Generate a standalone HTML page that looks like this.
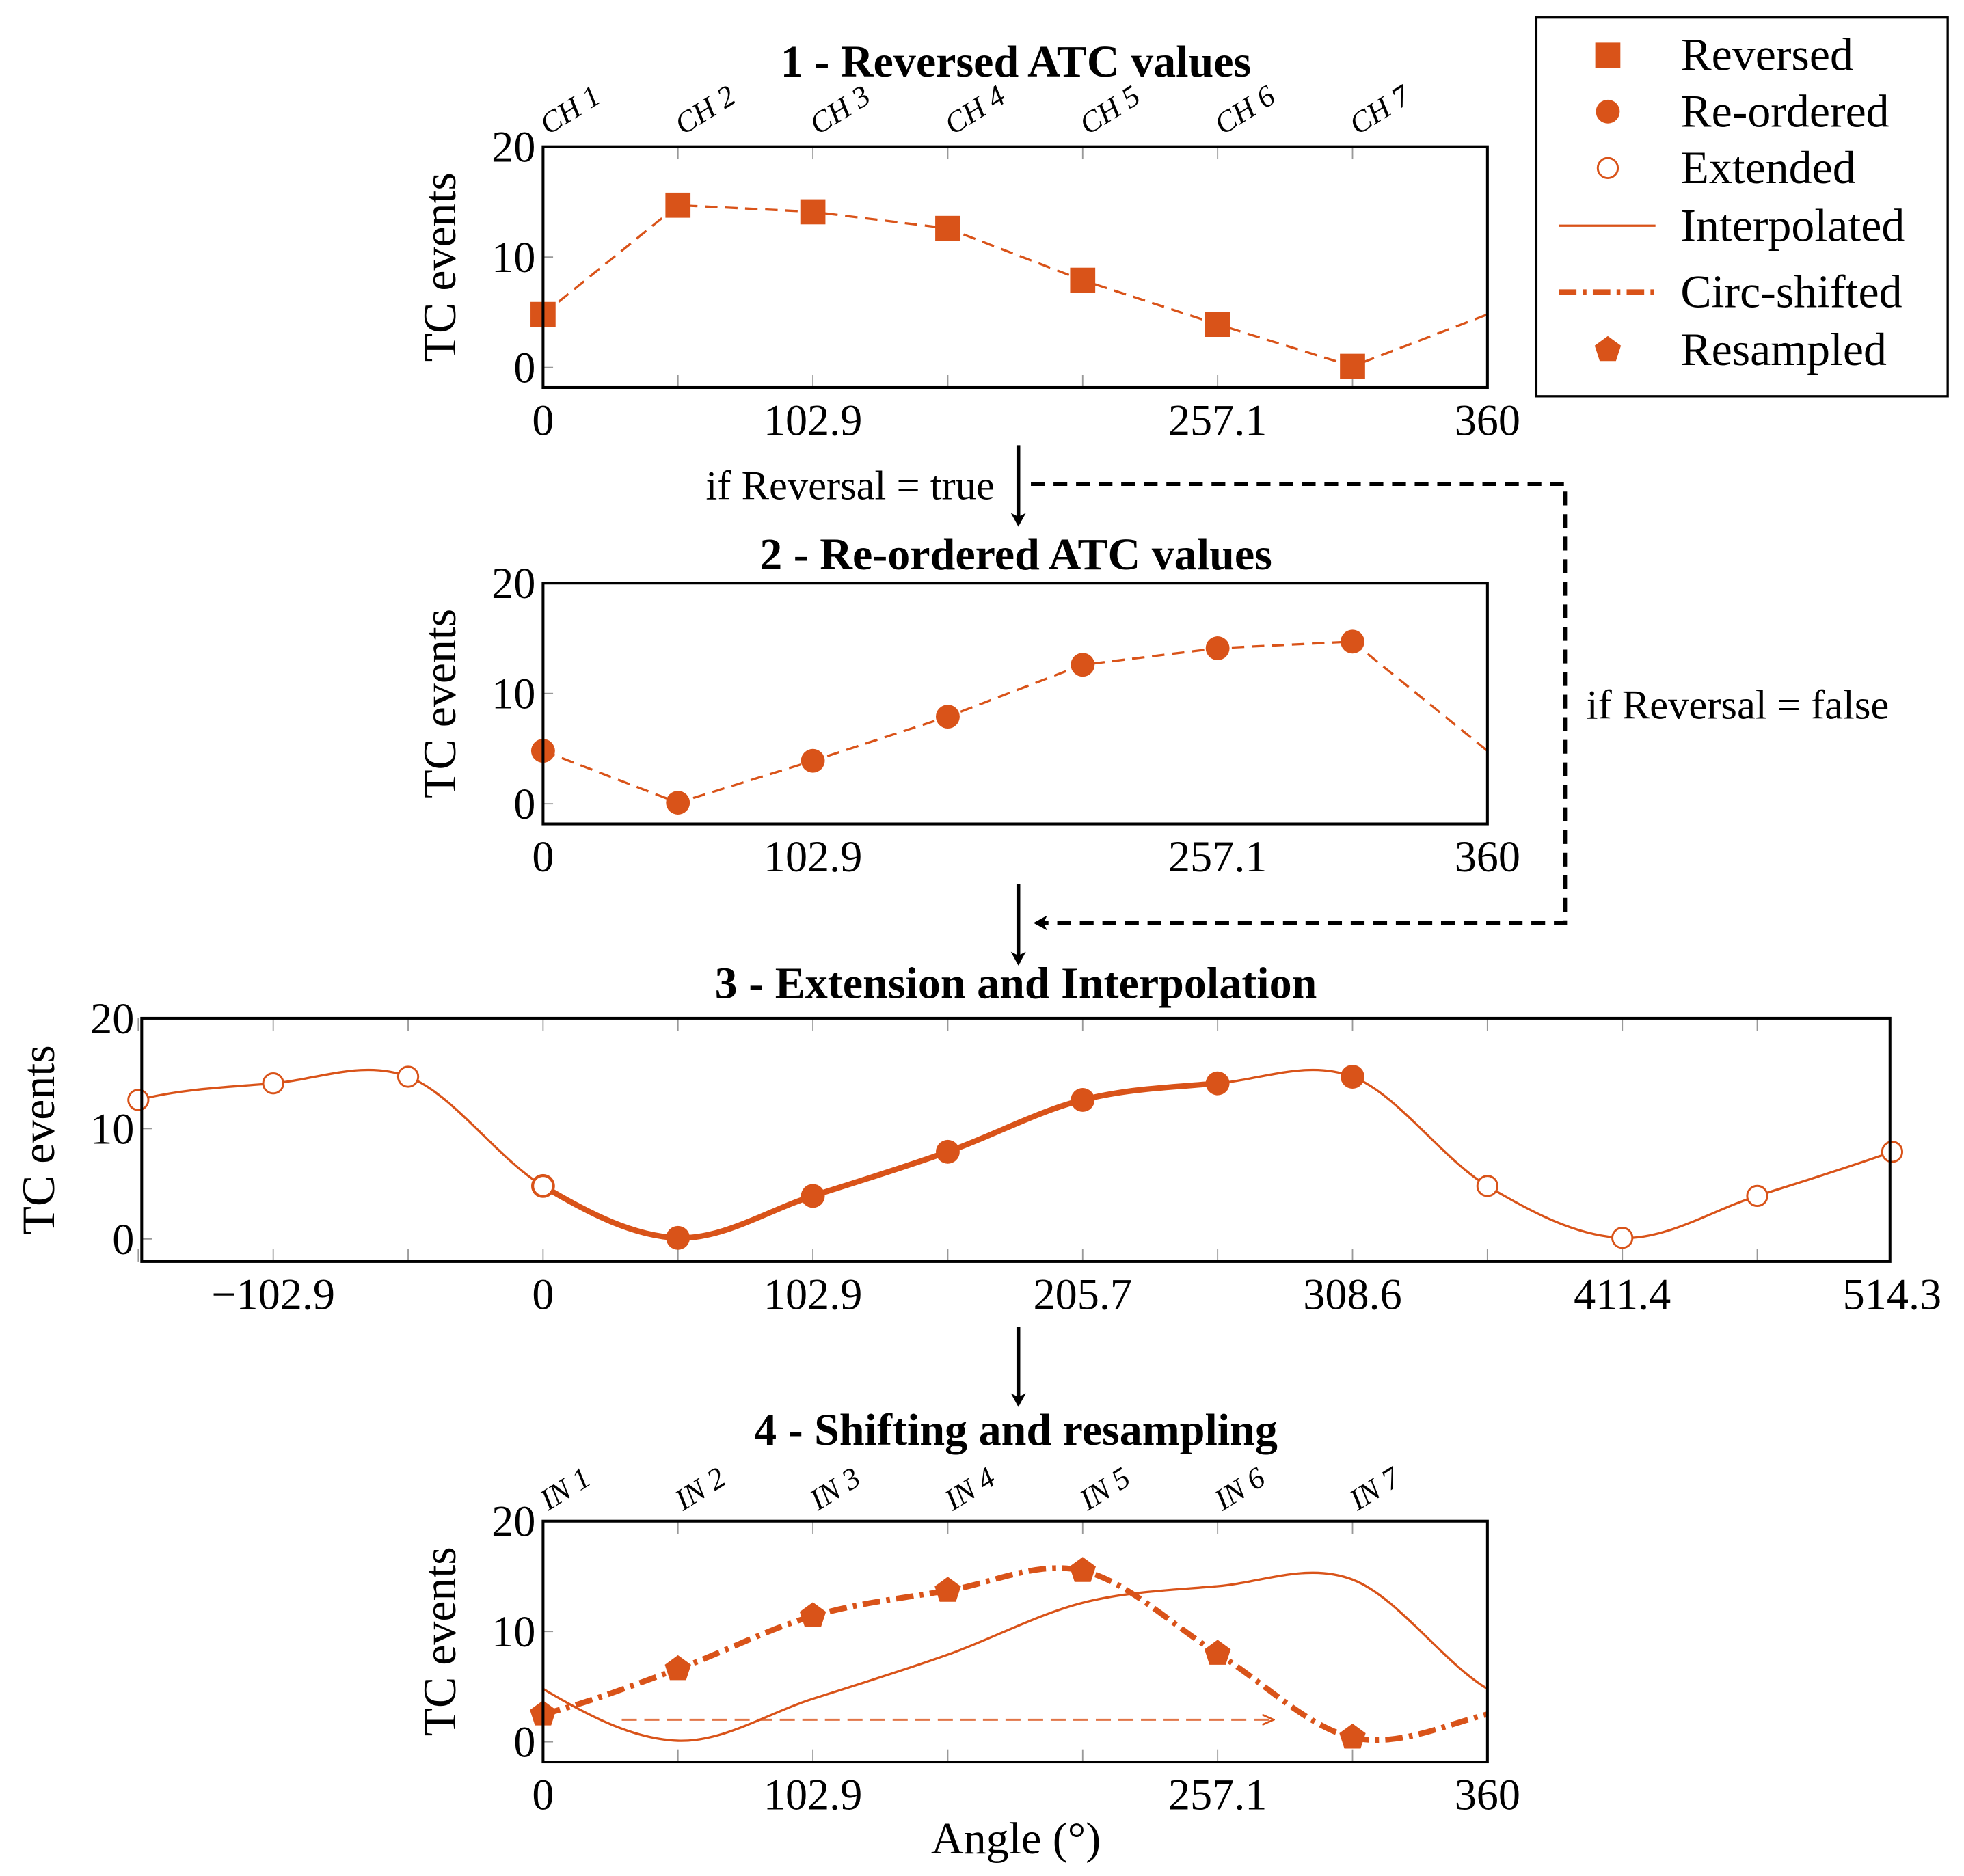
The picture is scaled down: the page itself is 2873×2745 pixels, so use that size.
<!DOCTYPE html>
<html><head><meta charset="utf-8"><style>
html,body{margin:0;padding:0;background:#fff}
svg{display:block}
text{font-family:"Liberation Serif",serif;fill:#000}
</style></head><body>
<svg id="fig" width="2873" height="2745" viewBox="0 0 1566 1496" preserveAspectRatio="none" xmlns="http://www.w3.org/2000/svg">
<defs>
<marker id="ah" markerWidth="12" markerHeight="12" refX="9" refY="6" orient="auto" markerUnits="userSpaceOnUse"><path d="M0,0 L11,6 L0,12 L3,6 Z" fill="#000"/></marker>
<marker id="ah2" markerWidth="10" markerHeight="10" refX="8" refY="5" orient="auto" markerUnits="userSpaceOnUse"><path d="M0,1 L9,5 L0,9" fill="none" stroke="#d95319" stroke-width="1.5"/></marker>
</defs>
</svg>
<script>
const reversedVals=[4.8,14.7,14.1,12.6,7.9,3.9,0.1];
const reorderedVals=[4.8,0.1,3.9,7.9,12.6,14.1,14.7];
const extLeftVals=[12.6,14.1,14.7];
const extRightVals=[0.1,3.9,7.9];
const resampledVals=[2.5,6.6,11.4,13.7,15.5,8.0,0.4];
const chLabels=["CH 1","CH 2","CH 3","CH 4","CH 5","CH 6","CH 7"];
const inLabels=["IN 1","IN 2","IN 3","IN 4","IN 5","IN 6","IN 7"];
const yTicks=[0,10,20];
const xTickLabels=["0","102.9","257.1","360"];
const xTickVals=[0,102.857,257.143,360];
const x3TickVals=[-102.857,0,102.857,205.714,308.571,411.429,514.286];
const x3TickLabels=["\u2212102.9","0","102.9","205.7","308.6","411.4","514.3"];
const step=360/7;
const C="#d95319";
const svg=document.getElementById('fig');
const NS="http://www.w3.org/2000/svg";
function X(v){return 433+v*753/360;}
function mk(tag,attrs,parent){const e=document.createElementNS(NS,tag);for(const k in attrs)e.setAttribute(k,attrs[k]);(parent||svg).appendChild(e);return e;}
function txt(s,x,y,size,extra,parent){const t=mk('text',Object.assign({x:x,y:y,'font-size':size},extra||{}),parent);t.textContent=s;return t;}
function catmull(pts){let d="M"+pts[1][0]+","+pts[1][1];for(let i=1;i<pts.length-2;i++){const p0=pts[i-1],p1=pts[i],p2=pts[i+1],p3=pts[i+2];const c1=[p1[0]+(p2[0]-p0[0])/6,p1[1]+(p2[1]-p0[1])/6];const c2=[p2[0]-(p3[0]-p1[0])/6,p2[1]-(p3[1]-p1[1])/6];d+=" C"+c1[0]+","+c1[1]+" "+c2[0]+","+c2[1]+" "+p2[0]+","+p2[1];}return d;}

function panel(name,y0,top,bottom,xl,xr,tv,tl,tickXs){
  const g=mk('g',{});
  
  
  const Y=v=>y0-v*8.8;
  tickXs.forEach(v=>{const x=X(v);mk('line',{x1:x,x2:x,y1:top,y2:top+10,stroke:'#999','stroke-width':1},g);mk('line',{x1:x,x2:x,y1:bottom,y2:bottom-10,stroke:'#999','stroke-width':1},g);});
  yTicks.forEach(v=>{mk('line',{x1:xl,x2:xl+8,y1:Y(v),y2:Y(v),stroke:'#999','stroke-width':1},g);const t=txt(String(v),xl-6,Y(v)+12,35,{'text-anchor':'end'},g);});
  tv.forEach((v,i)=>{const t=txt(tl[i],X(v),bottom+38,35,{'text-anchor':'middle'},g);});
  const yl=txt("TC events",0,0,37,{'text-anchor':'middle',transform:'translate('+(xl-70)+','+((top+bottom)/2)+') rotate(-90)'},g);
  
  
  return {g:g,Y:Y,frame:()=>{const r=mk('rect',{x:xl,y:top,width:xr-xl,height:bottom-top,fill:'none',stroke:'#000','stroke-width':2.2},g);}};
}
const sevenX=[0,1,2,3,4,5,6].map(i=>i*step);

// Panel 1
let p=panel('panel-reversed',293,117,309,433,1186,xTickVals,xTickLabels,sevenX);
let t=txt("1 - Reversed ATC values",810,61,36,{'text-anchor':'middle','font-weight':'bold'});

{let pts=reversedVals.map((v,i)=>[X(i*step),p.Y(v)]);pts.push([X(360),p.Y(reversedVals[0])]);
 let l=mk('polyline',{points:pts.map(q=>q.join(',')).join(' '),fill:'none',stroke:C,'stroke-width':1.8,'stroke-dasharray':'10 6'},p.g);
 reversedVals.forEach((v,i)=>{const r=mk('rect',{x:X(i*step)-10,y:p.Y(v)-10,width:20,height:20,fill:C},p.g);});
 chLabels.forEach((s,i)=>{const c=txt(s,0,0,24,{transform:'translate('+(X(i*step)+4)+',108) rotate(-32)','font-style':'italic'},p.g);});
}
p.frame();

// Panel 2
p=panel('panel-reordered',641,465,657,433,1186,xTickVals,xTickLabels,[]);
t=txt("2 - Re-ordered ATC values",810,454,36,{'text-anchor':'middle','font-weight':'bold'});

{let pts=reorderedVals.map((v,i)=>[X(i*step),p.Y(v)]);pts.push([X(360),p.Y(reorderedVals[0])]);
 let l=mk('polyline',{points:pts.map(q=>q.join(',')).join(' '),fill:'none',stroke:C,'stroke-width':1.8,'stroke-dasharray':'10 6'},p.g);
 reorderedVals.forEach((v,i)=>{const c=mk('circle',{cx:X(i*step),cy:p.Y(v),r:9.5,fill:C},p.g);});
}
p.frame();

// Panel 3
p=panel('panel-extension',988,812,1006,113,1507,x3TickVals,x3TickLabels,[-3,-2,-1,0,1,2,3,4,5,6,7,8,9].map(i=>i*step));
t=txt("3 - Extension and Interpolation",810,796,36,{'text-anchor':'middle','font-weight':'bold'});

{let vals=[].concat(reorderedVals.slice(3,4),extLeftVals,reorderedVals,[reorderedVals[0]],extRightVals,[reorderedVals[4]]);
 let xs=vals.map((v,i)=>(i-4)*step);
 let pts=vals.map((v,i)=>[X(xs[i]),p.Y(v)]);
 let l=mk('path',{d:catmull(pts),fill:'none',stroke:C,'stroke-width':1.8},p.g);
 let thick=pts.slice(3,11);
 let l2=mk('path',{d:catmull(thick),fill:'none',stroke:C,'stroke-width':4.5},p.g);
 extLeftVals.forEach((v,i)=>{const c=mk('circle',{cx:X((i-3)*step),cy:p.Y(v),r:8,fill:'#fff',stroke:C,'stroke-width':1.6},p.g);});
 [reorderedVals[0]].concat(extRightVals).forEach((v,i)=>{const c=mk('circle',{cx:X((i+7)*step),cy:p.Y(v),r:8,fill:'#fff',stroke:C,'stroke-width':1.6},p.g);});
 reorderedVals.forEach((v,i)=>{const c=mk('circle',{cx:X(i*step),cy:p.Y(v),r:9.5,fill:C},p.g);});
 const c0=mk('circle',{cx:X(0),cy:p.Y(reorderedVals[0]),r:8,fill:'#fff',stroke:C,'stroke-width':1.6},p.g);
}
p.frame();

// Panel 4
p=panel('panel-shift-resample',1389,1213,1405,433,1186,xTickVals,xTickLabels,sevenX);
t=txt("4 - Shifting and resampling",810,1152,36,{'text-anchor':'middle','font-weight':'bold'});

{let vals=[reorderedVals[6]].concat(reorderedVals,[reorderedVals[0],reorderedVals[1]]);
 let pts=vals.map((v,i)=>[X((i-1)*step),p.Y(v)]);
 let cp=mk('clipPath',{id:'clip4'},p.g);mk('rect',{x:433,y:1213,width:753,height:192},cp);
 let l=mk('path',{d:catmull(pts),fill:'none',stroke:C,'stroke-width':1.8,'clip-path':'url(#clip4)'},p.g);
 let rv=[resampledVals[6]].concat(resampledVals,[resampledVals[0],resampledVals[1]]);
 let rp=rv.map((v,i)=>[X((i-1)*step),p.Y(v)]);
 let l2=mk('path',{d:catmull(rp),fill:'none',stroke:C,'stroke-width':4.5,'stroke-dasharray':'14 5 3 5','clip-path':'url(#clip4)'},p.g);
 let a=mk('line',{x1:X(30),x2:X(278),y1:p.Y(2),y2:p.Y(2),stroke:C,'stroke-width':1.6,'stroke-dasharray':'12 6','stroke-opacity':0.8,'marker-end':'url(#ah2)'},p.g);
 resampledVals.forEach((v,i)=>{const cx=X(i*step),cy=p.Y(v);let s="";for(let k=0;k<5;k++){const an=-Math.PI/2+k*2*Math.PI/5;s+=(cx+11*Math.cos(an))+","+(cy+11*Math.sin(an))+" ";}const pg=mk('polygon',{points:s,fill:C},p.g);});
 inLabels.forEach((s,i)=>{const c=txt(s,0,0,24,{transform:'translate('+(X(i*step)+4)+',1205) rotate(-32)','font-style':'italic'},p.g);});
}
p.frame();
t=txt("Angle (\u00b0)",810,1478,36,{'text-anchor':'middle'});


// Flow arrows
[[355,418],[705,768],[1058,1120]].forEach(a=>{const l=mk('line',{x1:812,x2:812,y1:a[0],y2:a[1],stroke:'#000','stroke-width':3,'marker-end':'url(#ah)'});});
let d=mk('path',{d:'M822,386 L1248,386 L1248,736 L826,736',fill:'none',stroke:'#000','stroke-width':3,'stroke-dasharray':'11 7','marker-end':'url(#ah)'});

t=txt("if Reversal = true",793,398,33,{'text-anchor':'end'});

t=txt("if Reversal = false",1265,573,33,{});


// Legend
const lg=mk('g',{});


mk('rect',{x:1225,y:14,width:328,height:302,fill:'#fff',stroke:'#000','stroke-width':1.8},lg);
const legNames=["Reversed","Re-ordered","Extended","Interpolated","Circ-shifted","Resampled"];
const legY=[44,89,134,180,233,279];
legNames.forEach((n,i)=>{const y=legY[i];const e=mk('g',{},lg);
 
 
 if(i==0)mk('rect',{x:1272,y:y-10,width:20,height:20,fill:C},e);
 if(i==1)mk('circle',{cx:1282,cy:y,r:9.5,fill:C},e);
 if(i==2)mk('circle',{cx:1282,cy:y,r:8,fill:'#fff',stroke:C,'stroke-width':1.6},e);
 if(i==3)mk('line',{x1:1243,x2:1320,y1:y,y2:y,stroke:C,'stroke-width':1.8},e);
 if(i==4)mk('line',{x1:1243,x2:1320,y1:y,y2:y,stroke:C,'stroke-width':4.5,'stroke-dasharray':'14 5 3 5'},e);
 if(i==5){let s="";for(let k=0;k<5;k++){const an=-Math.PI/2+k*2*Math.PI/5;s+=(1282+11*Math.cos(an))+","+(y+11*Math.sin(an))+" ";}mk('polygon',{points:s,fill:C},e);}
 txt(n,1340,y+12,37,{},e);
});
</script>
</body></html>
